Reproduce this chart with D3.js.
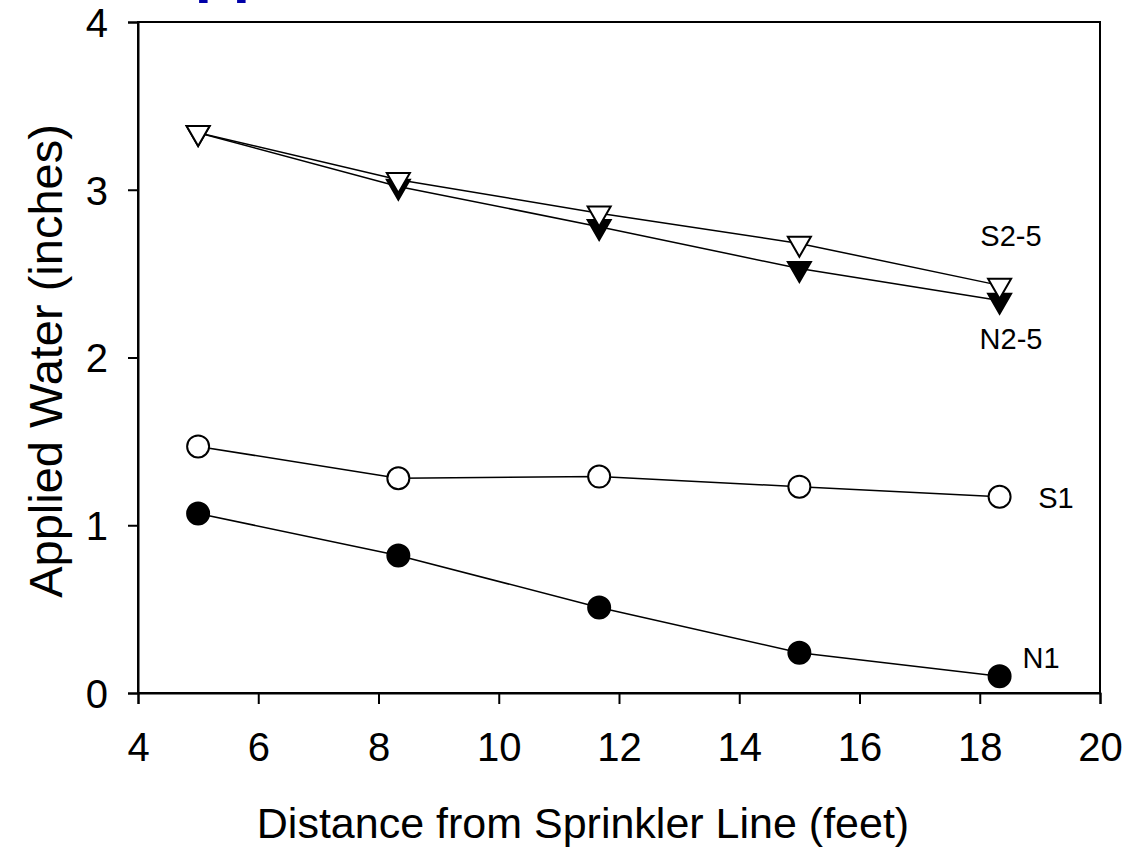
<html>
<head>
    <style>
        body { margin: 0; background: #ffffff; }
        text { font-family: "Liberation Sans", Arial, sans-serif; }
    </style>
</head>
<body>
    <svg id="container" width="1128" height="852"></svg>
</body>
<script src="https://cdn.jsdelivr.net/npm/d3@7"></script>
<script>
    // distance from sprinkler line (feet)
    let distances = [5, 8.33, 11.67, 15, 18.33]

    let s25 = [3.34, 3.06, 2.86, 2.68, 2.43]
    let n25 = [3.34, 3.02, 2.78, 2.53, 2.34]
    let s1 = [1.47, 1.28, 1.29, 1.23, 1.17]
    let n1 = [1.07, 0.82, 0.51, 0.24, 0.10]

    let xTicks = [4, 6, 8, 10, 12, 14, 16, 18, 20]
    let yTicks = [0, 1, 2, 3, 4]

    let seriesNames = ["S2-5", "N2-5", "S1", "N1"]

    let svg = d3.select("#container")

    let plotLeft = 138, plotRight = 1100, plotTop = 22, plotBottom = 693

    let x = d3.scaleLinear().domain([4, 20]).range([plotLeft, plotRight])
    let y = d3.scaleLinear().domain([0, 4]).range([plotBottom, plotTop])

    // cut off blue title above the frame
    svg.append("text")
        .attr("x", 150)
        .attr("y", -10)
        .attr("fill", "#0000a8")
        .style("font-size", "62px")
        .style("font-weight", "bold")
        .text("Applied Water")

    // frame
    svg.append("rect")
        .attr("x", plotLeft).attr("y", plotTop)
        .attr("width", plotRight - plotLeft).attr("height", plotBottom - plotTop)
        .attr("fill", "none").attr("stroke", "#000").attr("stroke-width", 2)

    let xAxis = svg.append("g")
        .attr("transform", `translate(0,${plotBottom})`)
        .call(d3.axisBottom(x).tickValues(xTicks).tickSize(11).tickPadding(29).tickFormat(d3.format("d")))
    let yAxis = svg.append("g")
        .attr("transform", `translate(${plotLeft},0)`)
        .call(d3.axisLeft(y).tickValues(yTicks).tickSize(10).tickPadding(20).tickFormat(d3.format("d")))

    for (let ax of [xAxis, yAxis]) {
        ax.select(".domain").attr("stroke-width", 2)
        ax.selectAll(".tick line").attr("stroke-width", 2)
        ax.selectAll(".tick text")
            .style("font-size", "40px")
            .style("font-family", "'Liberation Sans', Arial, sans-serif")
            .attr("fill", "#000")
    }
    yAxis.selectAll(".tick text").attr("dy", "0.36em")

    svg.append("text")
        .attr("x", 583)
        .attr("y", 838)
        .attr("text-anchor", "middle")
        .style("font-size", "43px")
        .text("Distance from Sprinkler Line (feet)")

    svg.append("text")
        .attr("transform", `translate(62,361) rotate(-90)`)
        .attr("text-anchor", "middle")
        .style("font-size", "47px")
        .text("Applied Water (inches)")

    let line = d3.line()
        .x((d, i) => x(distances[i]))
        .y(d => y(d))

    let series = [
        { name: seriesNames[0], values: s25, shape: "tri", fill: "#fff" },
        { name: seriesNames[1], values: n25, shape: "tri", fill: "#000" },
        { name: seriesNames[2], values: s1, shape: "circle", fill: "#fff" },
        { name: seriesNames[3], values: n1, shape: "circle", fill: "#000" }
    ]

    for (let s of series) {
        svg.append("path")
            .attr("d", line(s.values))
            .attr("fill", "none")
            .attr("stroke", "#000")
            .attr("stroke-width", 1.5)
    }

    let triangle = d3.symbol().type(d3.symbolTriangle).size(230)

    // draw filled ones first, then open ones
    for (let s of [series[1], series[0], series[3], series[2]]) {
        let g = svg.append("g")
        if (s.shape == "tri") {
            g.selectAll("path")
                .data(s.values)
                .enter()
                .append("path")
                .attr("d", triangle)
                .attr("transform", (d, i) => `translate(${x(distances[i])},${y(d)}) rotate(180)`)
                .attr("fill", s.fill)
                .attr("stroke", "#000")
                .attr("stroke-width", 2)
        } else {
            g.selectAll("circle")
                .data(s.values)
                .enter()
                .append("circle")
                .attr("cx", (d, i) => x(distances[i]))
                .attr("cy", d => y(d))
                .attr("r", 11)
                .attr("fill", s.fill)
                .attr("stroke", "#000")
                .attr("stroke-width", 2)
        }
    }

    // series labels
    let labelPos = [[1011, 236], [1011, 339], [1056, 498], [1041, 658]]
    svg.selectAll(".label")
        .data(seriesNames)
        .enter()
        .append("text")
        .attr("class", "label")
        .attr("x", (d, i) => labelPos[i][0])
        .attr("y", (d, i) => labelPos[i][1])
        .attr("dy", "0.36em")
        .attr("text-anchor", "middle")
        .style("font-size", "29px")
        .text(d => d)
</script>
</html>
